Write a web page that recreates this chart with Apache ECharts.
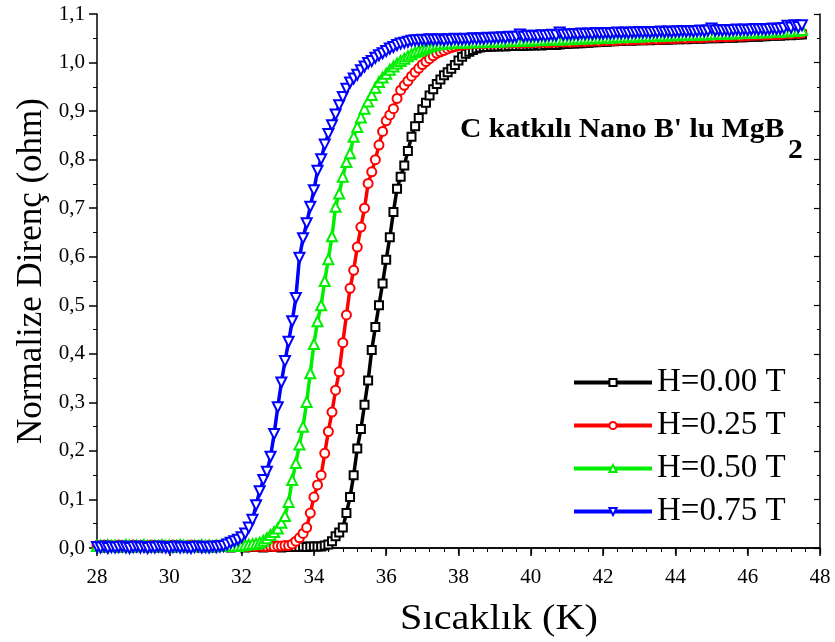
<!DOCTYPE html>
<html>
<head>
<meta charset="utf-8">
<script src="https://cdn.jsdelivr.net/npm/echarts@6/dist/echarts.min.js"></script>
<style>
  html, body { margin: 0; padding: 0; background: #fff; }
  #chart { width: 835px; height: 642px; }
</style>
</head>
<body>
<div id="chart"></div>
<script>
// sicaklik (K)
var temps = [
  28.0,28.1,28.2,28.3,28.4,28.5,28.6,28.7,28.8,28.9,
  29.0,29.1,29.2,29.3,29.4,29.5,29.6,29.7,29.8,29.9,
  30.0,30.1,30.2,30.3,30.4,30.5,30.6,30.7,30.8,30.9,
  31.0,31.1,31.2,31.3,31.4,31.5,31.6,31.7,31.8,31.9,
  32.0,32.1,32.2,32.3,32.4,32.5,32.6,32.7,32.8,32.9,
  33.0,33.1,33.2,33.3,33.4,33.5,33.6,33.7,33.8,33.9,
  34.0,34.1,34.2,34.3,34.4,34.5,34.6,34.7,34.8,34.9,
  35.0,35.1,35.2,35.3,35.4,35.5,35.6,35.7,35.8,35.9,
  36.0,36.1,36.2,36.3,36.4,36.5,36.6,36.7,36.8,36.9,
  37.0,37.1,37.2,37.3,37.4,37.5,37.6,37.7,37.8,37.9,
  38.0,38.1,38.2,38.3,38.4,38.5,38.6,38.7,38.8,38.9,
  39.0,39.1,39.2,39.3,39.4,39.5,39.6,39.7,39.8,39.9,
  40.0,40.1,40.2,40.3,40.4,40.5,40.6,40.7,40.8,40.9,
  41.0,41.1,41.2,41.3,41.4,41.5,41.6,41.7,41.8,41.9,
  42.0,42.1,42.2,42.3,42.4,42.5,42.6,42.7,42.8,42.9,
  43.0,43.1,43.2,43.3,43.4,43.5,43.6,43.7,43.8,43.9,
  44.0,44.1,44.2,44.3,44.4,44.5,44.6,44.7,44.8,44.9,
  45.0,45.1,45.2,45.3,45.4,45.5,45.6,45.7,45.8,45.9,
  46.0,46.1,46.2,46.3,46.4,46.5,46.6,46.7,46.8,46.9,
  47.0,47.1,47.2,47.3,47.4,47.5
];

// H=0.00 T
var r000 = [
  0.002,0.003,0.001,0.002,0.003,0.002,0.001,0.003,0.002,0.002,
  0.001,0.003,0.002,0.002,0.001,0.003,0.002,0.001,0.002,0.003,
  0.002,0.001,0.002,0.003,0.002,0.001,0.003,0.002,0.002,0.001,
  0.003,0.002,0.001,0.002,0.003,0.002,0.002,0.001,0.003,0.002,
  0.002,0.001,0.003,0.002,0.002,0.003,0.001,0.002,0.002,0.003,
  0.002,0.001,0.002,0.003,0.002,0.002,0.002,0.003,0.002,0.003,
  0.003,0.003,0.003,0.005,0.007,0.014,0.024,0.032,0.042,0.072,
  0.105,0.150,0.205,0.245,0.295,0.345,0.408,0.455,0.500,0.545,
  0.594,0.640,0.692,0.740,0.765,0.788,0.818,0.847,0.869,0.886,
  0.904,0.917,0.932,0.945,0.956,0.965,0.974,0.980,0.987,0.995,
  1.004,1.012,1.018,1.022,1.026,1.029,1.031,1.032,1.032,1.033,
  1.033,1.033,1.034,1.033,1.034,1.034,1.034,1.035,1.034,1.035,
  1.035,1.035,1.036,1.035,1.036,1.036,1.037,1.036,1.037,1.038,
  1.038,1.039,1.039,1.040,1.040,1.041,1.041,1.042,1.042,1.043,
  1.043,1.043,1.044,1.044,1.045,1.045,1.045,1.046,1.045,1.046,
  1.046,1.046,1.047,1.046,1.047,1.047,1.047,1.048,1.047,1.048,
  1.048,1.048,1.049,1.048,1.049,1.049,1.050,1.049,1.050,1.050,
  1.050,1.051,1.050,1.051,1.051,1.052,1.051,1.052,1.052,1.052,
  1.053,1.053,1.054,1.053,1.054,1.054,1.055,1.055,1.056,1.055,
  1.056,1.057,1.056,1.057,1.058,1.058
];

// H=0.25 T
var r025 = [
  0.005,0.004,0.006,0.003,0.005,0.004,0.006,0.005,0.003,0.004,
  0.006,0.004,0.005,0.003,0.005,0.006,0.004,0.005,0.003,0.005,
  0.004,0.006,0.005,0.004,0.003,0.005,0.006,0.004,0.005,0.004,
  0.003,0.005,0.004,0.006,0.004,0.005,0.003,0.004,0.005,0.004,
  0.003,0.004,0.003,0.004,0.003,0.004,0.003,0.003,0.004,0.003,
  0.004,0.004,0.005,0.005,0.008,0.014,0.021,0.030,0.042,0.072,
  0.105,0.130,0.150,0.195,0.240,0.280,0.325,0.363,0.423,0.480,
  0.535,0.572,0.620,0.661,0.700,0.751,0.775,0.800,0.830,0.858,
  0.880,0.892,0.905,0.926,0.943,0.953,0.962,0.972,0.980,0.988,
  0.996,1.002,1.008,1.014,1.019,1.022,1.025,1.028,1.031,1.033,
  1.035,1.036,1.037,1.038,1.039,1.039,1.040,1.039,1.040,1.040,
  1.040,1.041,1.040,1.041,1.040,1.041,1.041,1.040,1.041,1.041,
  1.041,1.042,1.041,1.042,1.042,1.041,1.042,1.042,1.043,1.042,
  1.043,1.042,1.043,1.043,1.044,1.043,1.044,1.044,1.045,1.044,
  1.045,1.045,1.046,1.045,1.046,1.046,1.047,1.046,1.047,1.047,
  1.048,1.047,1.048,1.048,1.049,1.048,1.049,1.049,1.050,1.049,
  1.050,1.050,1.051,1.050,1.051,1.051,1.052,1.051,1.052,1.052,
  1.053,1.052,1.053,1.054,1.053,1.054,1.054,1.055,1.054,1.055,
  1.055,1.056,1.056,1.057,1.056,1.057,1.058,1.057,1.058,1.058,
  1.059,1.060,1.059,1.061,1.060,1.061
];

// H=0.50 T
var r050 = [
  0.004,0.005,0.003,0.006,0.004,0.005,0.003,0.004,0.006,0.005,
  0.003,0.005,0.004,0.006,0.004,0.003,0.005,0.004,0.006,0.004,
  0.005,0.003,0.004,0.006,0.005,0.004,0.003,0.005,0.004,0.006,
  0.004,0.005,0.003,0.005,0.004,0.006,0.004,0.005,0.004,0.004,
  0.005,0.006,0.007,0.008,0.009,0.011,0.015,0.020,0.027,0.033,
  0.040,0.052,0.066,0.095,0.140,0.175,0.213,0.250,0.301,0.360,
  0.420,0.467,0.500,0.550,0.595,0.642,0.703,0.730,0.765,0.795,
  0.813,0.847,0.867,0.887,0.905,0.920,0.933,0.948,0.960,0.969,
  0.977,0.985,0.992,0.998,1.003,1.008,1.013,1.017,1.021,1.024,
  1.027,1.030,1.033,1.035,1.037,1.038,1.039,1.040,1.040,1.041,
  1.041,1.042,1.041,1.042,1.042,1.043,1.042,1.043,1.043,1.043,
  1.044,1.043,1.044,1.044,1.045,1.044,1.045,1.045,1.046,1.045,
  1.046,1.046,1.047,1.046,1.047,1.047,1.048,1.047,1.048,1.048,
  1.049,1.048,1.049,1.050,1.049,1.050,1.050,1.051,1.050,1.051,
  1.051,1.052,1.051,1.052,1.053,1.052,1.053,1.053,1.054,1.053,
  1.054,1.054,1.055,1.054,1.055,1.055,1.056,1.055,1.056,1.056,
  1.057,1.056,1.057,1.057,1.058,1.057,1.058,1.058,1.059,1.058,
  1.059,1.059,1.060,1.059,1.060,1.060,1.061,1.060,1.061,1.061,
  1.062,1.061,1.062,1.062,1.063,1.062,1.063,1.063,1.064,1.064,
  1.065,1.064,1.066,1.065,1.066,1.067
];

// H=0.75 T
var r075 = [
  0.002,0.001,0.003,0.000,0.002,0.001,0.002,0.003,0.001,0.000,
  0.002,0.003,0.001,0.002,0.000,0.002,0.001,0.003,0.002,0.001,
  0.000,0.002,0.003,0.001,0.002,0.001,0.000,0.002,0.003,0.001,
  0.002,0.001,0.003,0.002,0.003,0.004,0.007,0.011,0.014,0.017,
  0.022,0.030,0.042,0.058,0.088,0.117,0.140,0.157,0.188,0.235,
  0.290,0.341,0.385,0.425,0.467,0.515,0.598,0.638,0.669,0.703,
  0.737,0.777,0.801,0.831,0.853,0.871,0.893,0.912,0.929,0.946,
  0.959,0.967,0.975,0.984,0.992,0.999,1.003,1.010,1.015,1.019,
  1.024,1.029,1.032,1.036,1.039,1.041,1.043,1.045,1.046,1.046,
  1.047,1.046,1.048,1.047,1.047,1.048,1.046,1.048,1.047,1.049,
  1.048,1.048,1.049,1.048,1.050,1.049,1.050,1.049,1.051,1.050,
  1.051,1.051,1.052,1.051,1.053,1.052,1.053,1.058,1.053,1.055,
  1.054,1.055,1.054,1.056,1.055,1.056,1.057,1.056,1.062,1.057,
  1.058,1.058,1.059,1.058,1.060,1.059,1.060,1.059,1.061,1.060,
  1.060,1.061,1.060,1.061,1.062,1.061,1.062,1.061,1.062,1.062,
  1.063,1.062,1.063,1.062,1.063,1.063,1.064,1.063,1.064,1.063,
  1.064,1.064,1.065,1.064,1.065,1.064,1.065,1.066,1.065,1.066,
  1.070,1.066,1.067,1.066,1.067,1.066,1.067,1.068,1.067,1.068,
  1.067,1.068,1.069,1.068,1.069,1.068,1.069,1.070,1.069,1.070,
  1.071,1.076,1.072,1.077,1.073,1.077
];

var names = ['H=0.00 T', 'H=0.25 T', 'H=0.50 T', 'H=0.75 T'];
var colors = ['#000000', '#ff0000', '#00ee00', '#0000ff'];

var serif = '"Liberation Serif", "Times New Roman", serif';

function pairs(ys) {
    return temps.map(function (t, i) { return [t, ys[i]]; });
}

function makeSeries(idx, ys, symbol, size, rotate) {
    return {
        name: names[idx],
        type: 'line',
        data: pairs(ys),
        color: colors[idx],
        symbol: symbol,
        symbolSize: size,
        symbolRotate: rotate || 0,
        lineStyle: { width: 3.5, color: colors[idx] },
        itemStyle: { borderWidth: 1 },
        emphasis: { disabled: true },
        animation: false
    };
}

var chart = echarts.init(document.getElementById('chart'));

var option = {
    backgroundColor: '#fff',
    animation: false,
    grid: { left: 97, right: 15, top: 14, bottom: 94 },
    legend: {
        orient: 'vertical',
        left: 572,
        top: 366,
        padding: 0,
        itemWidth: 78,
        itemHeight: 9,
        itemGap: 10,
        lineStyle: { width: 4 },
        textStyle: { fontFamily: serif, fontSize: 33, color: '#000' },
        data: names
    },
    xAxis: [{
        type: 'value',
        min: 28, max: 48, interval: 2,
        axisLine: { lineStyle: { color: '#000', width: 1.5 } },
        axisTick: { length: 8, lineStyle: { color: '#000', width: 1.5 } },
        minorTick: { show: true, splitNumber: 5, length: 4, lineStyle: { color: '#000', width: 1 } },
        axisLabel: { fontFamily: serif, fontSize: 21, color: '#000', margin: 19 },
        splitLine: { show: false }
    }, {
        type: 'value',
        position: 'top',
        min: 28, max: 48, interval: 2,
        axisLine: { lineStyle: { color: '#000', width: 1.5 } },
        axisTick: { inside: true, length: 6, lineStyle: { color: '#000', width: 1.2 } },
        minorTick: { show: true, splitNumber: 5, length: 3, lineStyle: { color: '#000' } },
        axisLabel: { show: false },
        splitLine: { show: false }
    }],
    yAxis: [{
        type: 'value',
        min: 0, max: 1.1, interval: 0.1,
        axisLine: { show: true, lineStyle: { color: '#000', width: 1.5 } },
        axisTick: { show: true, length: 8, lineStyle: { color: '#000', width: 1.5 } },
        minorTick: { show: true, splitNumber: 2, length: 4, lineStyle: { color: '#000', width: 1 } },
        axisLabel: {
            fontFamily: serif, fontSize: 21, color: '#000', margin: 12,
            formatter: function (v) { return v.toFixed(1).replace('.', ','); }
        },
        splitLine: { show: false }
    }, {
        type: 'value',
        position: 'right',
        min: 0, max: 1.1, interval: 0.1,
        axisLine: { show: true, lineStyle: { color: '#000', width: 1.5 } },
        axisTick: { show: true, inside: true, length: 6, lineStyle: { color: '#000', width: 1.2 } },
        minorTick: { show: true, splitNumber: 2, length: 3, lineStyle: { color: '#000' } },
        axisLabel: { show: false },
        splitLine: { show: false }
    }],
    graphic: [{
        // x axis name
        type: 'text',
        x: 499, y: 620,
        scaleX: 1.15,
        style: {
            text: 'Sıcaklık (K)',
            font: '35px ' + serif,
            fill: '#000',
            align: 'center',
            verticalAlign: 'middle'
        }
    }, {
        // y axis name
        type: 'text',
        x: 32, y: 271,
        rotation: Math.PI / 2,
        style: {
            text: 'Normalize Direnç (ohm)',
            font: '35px ' + serif,
            fill: '#000',
            align: 'center',
            verticalAlign: 'middle'
        }
    }, {
        type: 'text',
        x: 460, y: 117,
        scaleX: 1.1,
        style: {
            text: "C katkılı Nano B' lu MgB",
            font: 'bold 27px ' + serif,
            fill: '#000'
        }
    }, {
        type: 'text',
        x: 788, y: 138,
        scaleX: 1.1,
        style: {
            text: '2',
            font: 'bold 27px ' + serif,
            fill: '#000'
        }
    }],
    series: [
        makeSeries(0, r000, 'emptyRect', 8),
        makeSeries(1, r025, 'emptyCircle', 9),
        makeSeries(2, r050, 'emptyTriangle', 10),
        makeSeries(3, r075, 'emptyTriangle', 10, 180)
    ]
};

chart.setOption(option);
window.addEventListener('resize', function () {
    chart.resize();
});
</script>
</body>
</html>
